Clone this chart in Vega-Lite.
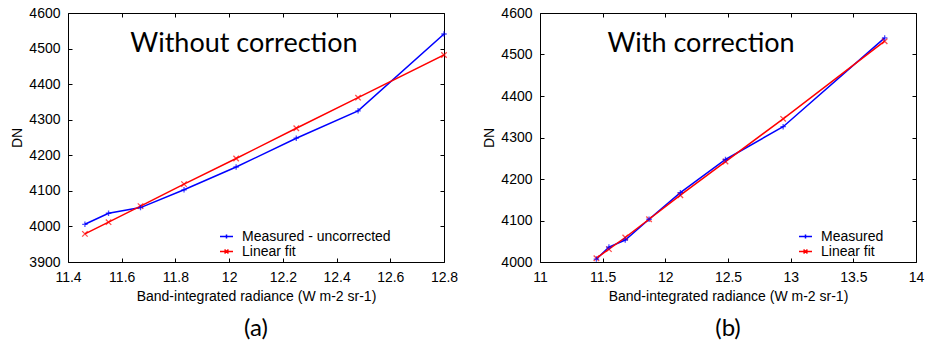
{
  "$schema": "https://vega.github.io/schema/vega-lite/v6.json",
  "padding": {"left": 10, "top": 5, "right": 5, "bottom": 2},
  "background": "white",
  "config": {
    "view": {"stroke": "black", "strokeWidth": 1},
    "axis": {"domain": false, "grid": false, "labelFlush": false, "labelOverlap": false, "tickColor": "black", "tickSize": -4, "labelFont": "Liberation Sans", "labelFontSize": 14, "labelColor": "black", "titleFont": "Liberation Sans", "titleFontSize": 14, "titleFontWeight": "normal", "titleColor": "black", "labelPadding": 12},
    "legend": {"labelFont": "Liberation Sans", "labelFontSize": 14, "labelColor": "black"},
    "title": {"font": "Lato", "fontSize": 24, "fontWeight": "normal", "color": "black", "orient": "bottom", "anchor": "middle", "offset": 14}
  },
  "bounds": "flush",
  "spacing": 96,
  "resolve": {"scale": {"color": "independent", "x": "independent", "y": "independent"}, "legend": {"color": "independent"}},
  "hconcat": [
    {
      "width": 376, "height": 249,
      "title": "(a)",
      "data": {"values": [
        {"s": "Measured - uncorrected", "x": 11.463, "y": 4006},
        {"s": "Measured - uncorrected", "x": 11.551, "y": 4037},
        {"s": "Measured - uncorrected", "x": 11.67, "y": 4053},
        {"s": "Measured - uncorrected", "x": 11.832, "y": 4103},
        {"s": "Measured - uncorrected", "x": 12.026, "y": 4167},
        {"s": "Measured - uncorrected", "x": 12.25, "y": 4248},
        {"s": "Measured - uncorrected", "x": 12.48, "y": 4325},
        {"s": "Measured - uncorrected", "x": 12.8, "y": 4541},
        {"s": "Linear fit", "x": 11.463, "y": 3979},
        {"s": "Linear fit", "x": 11.551, "y": 4012},
        {"s": "Linear fit", "x": 11.67, "y": 4057},
        {"s": "Linear fit", "x": 11.832, "y": 4119},
        {"s": "Linear fit", "x": 12.026, "y": 4191},
        {"s": "Linear fit", "x": 12.25, "y": 4276},
        {"s": "Linear fit", "x": 12.48, "y": 4362},
        {"s": "Linear fit", "x": 12.8, "y": 4482}
      ]},
      "resolve": {"axis": {"x": "independent", "y": "independent"}},
      "layer": [
        {
          "mark": {"type": "line", "strokeWidth": 1.5, "clip": true},
          "encoding": {
            "x": {"field": "x", "type": "quantitative", "scale": {"domain": [11.4, 12.8], "nice": false, "zero": false}, "axis": {"values": [11.4, 11.6, 11.8, 12, 12.2, 12.4, 12.6, 12.8], "format": "~f", "title": "Band-integrated radiance (W m-2 sr-1)", "titlePadding": 5}},
            "y": {"field": "y", "type": "quantitative", "scale": {"domain": [3900, 4600], "nice": false, "zero": false}, "axis": {"values": [3900, 4000, 4100, 4200, 4300, 4400, 4500, 4600], "format": "d", "title": "DN", "titlePadding": 4}},
            "color": {"field": "s", "type": "nominal", "scale": {"domain": ["Measured - uncorrected", "Linear fit"], "range": ["#0000ff", "#ff0000"]},
              "legend": {"title": null, "orient": "none", "legendX": 151, "legendY": 216, "symbolSize": 169, "labelOffset": 8, "rowPadding": 0,
                "encode": {"symbols": {"update": {"shape": {"signal": "datum.value === 'Linear fit' ? 'M-1,0L1,0M-0.3,-0.3L0.3,0.3M-0.3,0.3L0.3,-0.3' : 'M-1,0L1,0M0,-0.3L0,0.3'"}, "strokeWidth": {"value": 1.5}, "fill": {"value": "transparent"}}}}}}
          }
        },
        {
          "transform": [{"filter": "datum.s === 'Linear fit'"}],
          "mark": {"type": "point", "filled": false, "strokeWidth": 1.3, "size": 30, "shape": "M-1,-1L1,1M-1,1L1,-1"},
          "encoding": {
            "x": {"field": "x", "type": "quantitative", "axis": {"orient": "top", "labels": false, "title": null, "values": [11.4, 11.6, 11.8, 12, 12.2, 12.4, 12.6, 12.8]}},
            "y": {"field": "y", "type": "quantitative", "axis": {"orient": "right", "labels": false, "title": null, "values": [3900, 4000, 4100, 4200, 4300, 4400, 4500, 4600]}},
            "color": {"field": "s", "type": "nominal"}
          }
        },
        {
          "transform": [{"filter": "datum.s !== 'Linear fit'"}],
          "mark": {"type": "point", "filled": false, "strokeWidth": 1.3, "size": 30, "shape": "M-1,0L1,0M0,-1L0,1"},
          "encoding": {
            "x": {"field": "x", "type": "quantitative", "axis": null},
            "y": {"field": "y", "type": "quantitative", "axis": null},
            "color": {"field": "s", "type": "nominal"}
          }
        },
        {
          "data": {"values": [{"label": "Without correction", "x": 12.055, "y": 4513}]},
          "mark": {"type": "text", "font": "Lato", "fontSize": 27, "color": "black", "baseline": "middle", "align": "center"},
          "encoding": {
            "x": {"field": "x", "type": "quantitative", "axis": null},
            "y": {"field": "y", "type": "quantitative", "axis": null},
            "text": {"field": "label"}
          }
        }
      ]
    },
    {
      "width": 376, "height": 249,
      "title": "(b)",
      "data": {"values": [
        {"s": "Measured", "x": 11.45, "y": 4007},
        {"s": "Measured", "x": 11.55, "y": 4036},
        {"s": "Measured", "x": 11.68, "y": 4053},
        {"s": "Measured", "x": 11.87, "y": 4103},
        {"s": "Measured", "x": 12.12, "y": 4167},
        {"s": "Measured", "x": 12.48, "y": 4247},
        {"s": "Measured", "x": 12.94, "y": 4326},
        {"s": "Measured", "x": 13.75, "y": 4540},
        {"s": "Linear fit", "x": 11.45, "y": 4009},
        {"s": "Linear fit", "x": 11.55, "y": 4031},
        {"s": "Linear fit", "x": 11.68, "y": 4059},
        {"s": "Linear fit", "x": 11.87, "y": 4103},
        {"s": "Linear fit", "x": 12.12, "y": 4161},
        {"s": "Linear fit", "x": 12.48, "y": 4242},
        {"s": "Linear fit", "x": 12.94, "y": 4345},
        {"s": "Linear fit", "x": 13.75, "y": 4532}
      ]},
      "resolve": {"axis": {"x": "independent", "y": "independent"}},
      "layer": [
        {
          "mark": {"type": "line", "strokeWidth": 1.5, "clip": true},
          "encoding": {
            "x": {"field": "x", "type": "quantitative", "scale": {"domain": [11, 14], "nice": false, "zero": false}, "axis": {"values": [11, 11.5, 12, 12.5, 13, 13.5, 14], "format": "~f", "title": "Band-integrated radiance (W m-2 sr-1)", "titlePadding": 5}},
            "y": {"field": "y", "type": "quantitative", "scale": {"domain": [4000, 4600], "nice": false, "zero": false}, "axis": {"values": [4000, 4100, 4200, 4300, 4400, 4500, 4600], "format": "d", "title": "DN", "titlePadding": 4}},
            "color": {"field": "s", "type": "nominal", "scale": {"domain": ["Measured", "Linear fit"], "range": ["#0000ff", "#ff0000"]},
              "legend": {"title": null, "orient": "none", "legendX": 258, "legendY": 216, "symbolSize": 169, "labelOffset": 8, "rowPadding": 0,
                "encode": {"symbols": {"update": {"shape": {"signal": "datum.value === 'Linear fit' ? 'M-1,0L1,0M-0.3,-0.3L0.3,0.3M-0.3,0.3L0.3,-0.3' : 'M-1,0L1,0M0,-0.3L0,0.3'"}, "strokeWidth": {"value": 1.5}, "fill": {"value": "transparent"}}}}}}
          }
        },
        {
          "transform": [{"filter": "datum.s === 'Linear fit'"}],
          "mark": {"type": "point", "filled": false, "strokeWidth": 1.3, "size": 30, "shape": "M-1,-1L1,1M-1,1L1,-1"},
          "encoding": {
            "x": {"field": "x", "type": "quantitative", "axis": {"orient": "top", "labels": false, "title": null, "values": [11, 11.5, 12, 12.5, 13, 13.5, 14]}},
            "y": {"field": "y", "type": "quantitative", "axis": {"orient": "right", "labels": false, "title": null, "values": [4000, 4100, 4200, 4300, 4400, 4500, 4600]}},
            "color": {"field": "s", "type": "nominal"}
          }
        },
        {
          "transform": [{"filter": "datum.s !== 'Linear fit'"}],
          "mark": {"type": "point", "filled": false, "strokeWidth": 1.3, "size": 30, "shape": "M-1,0L1,0M0,-1L0,1"},
          "encoding": {
            "x": {"field": "x", "type": "quantitative", "axis": null},
            "y": {"field": "y", "type": "quantitative", "axis": null},
            "color": {"field": "s", "type": "nominal"}
          }
        },
        {
          "data": {"values": [{"label": "With correction", "x": 12.285, "y": 4525}]},
          "mark": {"type": "text", "font": "Lato", "fontSize": 27, "color": "black", "baseline": "middle", "align": "center"},
          "encoding": {
            "x": {"field": "x", "type": "quantitative", "axis": null},
            "y": {"field": "y", "type": "quantitative", "axis": null},
            "text": {"field": "label"}
          }
        }
      ]
    }
  ]
}
